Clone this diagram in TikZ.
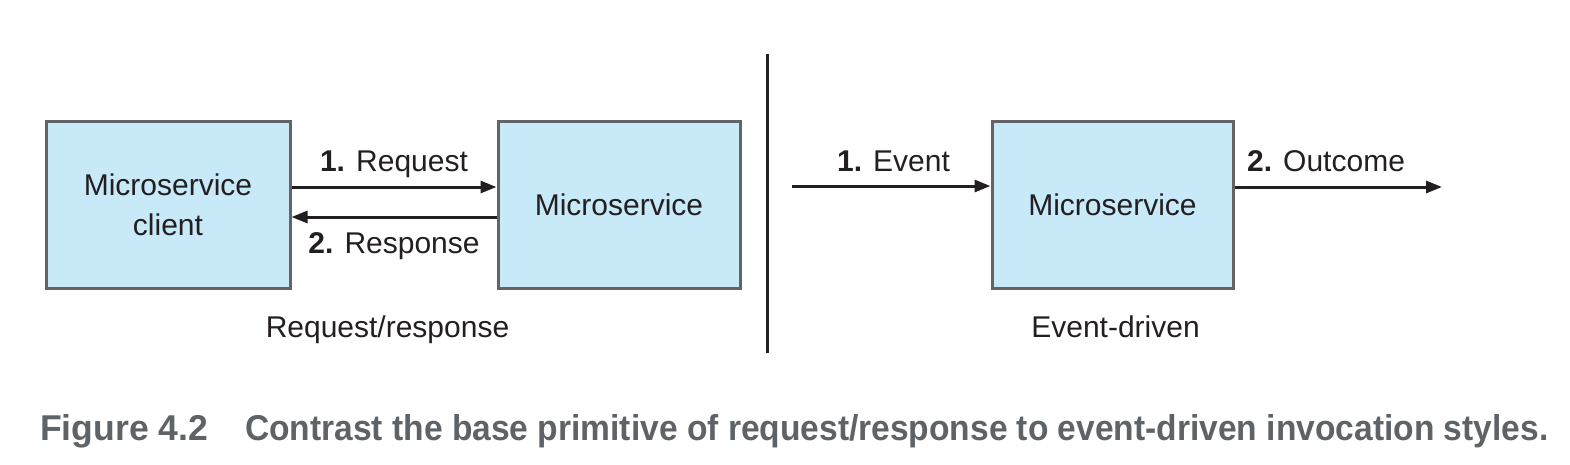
\documentclass[tikz,border=0pt]{standalone}
\usepackage{fontspec}
\usepackage{graphicx}
\setmainfont{Liberation Sans}
\usetikzlibrary{arrows.meta}
\definecolor{boxfill}{HTML}{C8E9F8}
\definecolor{boxline}{HTML}{626466}
\definecolor{ink}{HTML}{231F20}
\definecolor{capgray}{HTML}{5E6368}
\tikzset{
  svc/.style={draw=boxline, line width=3pt, fill=boxfill, minimum height=167pt,
    align=center, inner sep=0pt, text=ink, font=\fontsize{30}{40}\selectfont},
  arr/.style={draw=ink, line width=3pt, -{Triangle[length=16pt,width=12pt]}},
  lbl/.style={anchor=base, inner sep=0pt, text=ink, font=\fontsize{30}{36}\selectfont},
  captext/.style={anchor=base west, inner sep=0pt, text=capgray}
}
\begin{document}
\begin{tikzpicture}[x=1pt,y=-1pt]
\useasboundingbox (0,0) rectangle (1570,464);
\node[svc, minimum width=244pt] (client) at (168,204.5) {Microservice\\client};
\node[svc, minimum width=242pt] (ms1) at (619,204.5) {Microservice};
\node[svc, minimum width=241pt] (ms2) at (1112.5,204.5) {Microservice};

\draw[arr] ([yshift=17.5pt]client.east) -- ([yshift=17.5pt]ms1.west);
\draw[arr] ([yshift=-12.5pt]ms1.west) -- ([yshift=-12.5pt]client.east);

\coordinate (evin) at (792,186);
\coordinate (outc) at (1442,187);
\draw[arr] (evin) -- (evin -| ms2.west);
\draw[arr] ([yshift=17.5pt]ms2.east) -- (outc);

\node[lbl] (lreq) at (394,171) {\textbf{1.} Request};
\node[lbl] (lres) at (394,253) {\textbf{2.} Response};
\node[lbl] (lev) at (893.5,171) {\textbf{1.} Event};
\node[lbl] (lout) at (1326,171) {\textbf{2.} Outcome};
\node[lbl] (trr) at (387.5,337) {Request/response};
\node[lbl] (ted) at (1115.5,337) {Event-driven};

\coordinate (vtop) at (767,54);
\coordinate (vbot) at (767,353);
\draw[ink, line width=3pt] (vtop) -- (vbot);

\node[captext] (capa) at (40,440) {\resizebox{168pt}{26pt}{\bfseries Figure 4.2}};
\node[captext] (capb) at (245,440) {\resizebox{1303pt}{26pt}{\bfseries Contrast the base primitive of request/response to event-driven invocation styles.}};
\end{tikzpicture}
\end{document}
